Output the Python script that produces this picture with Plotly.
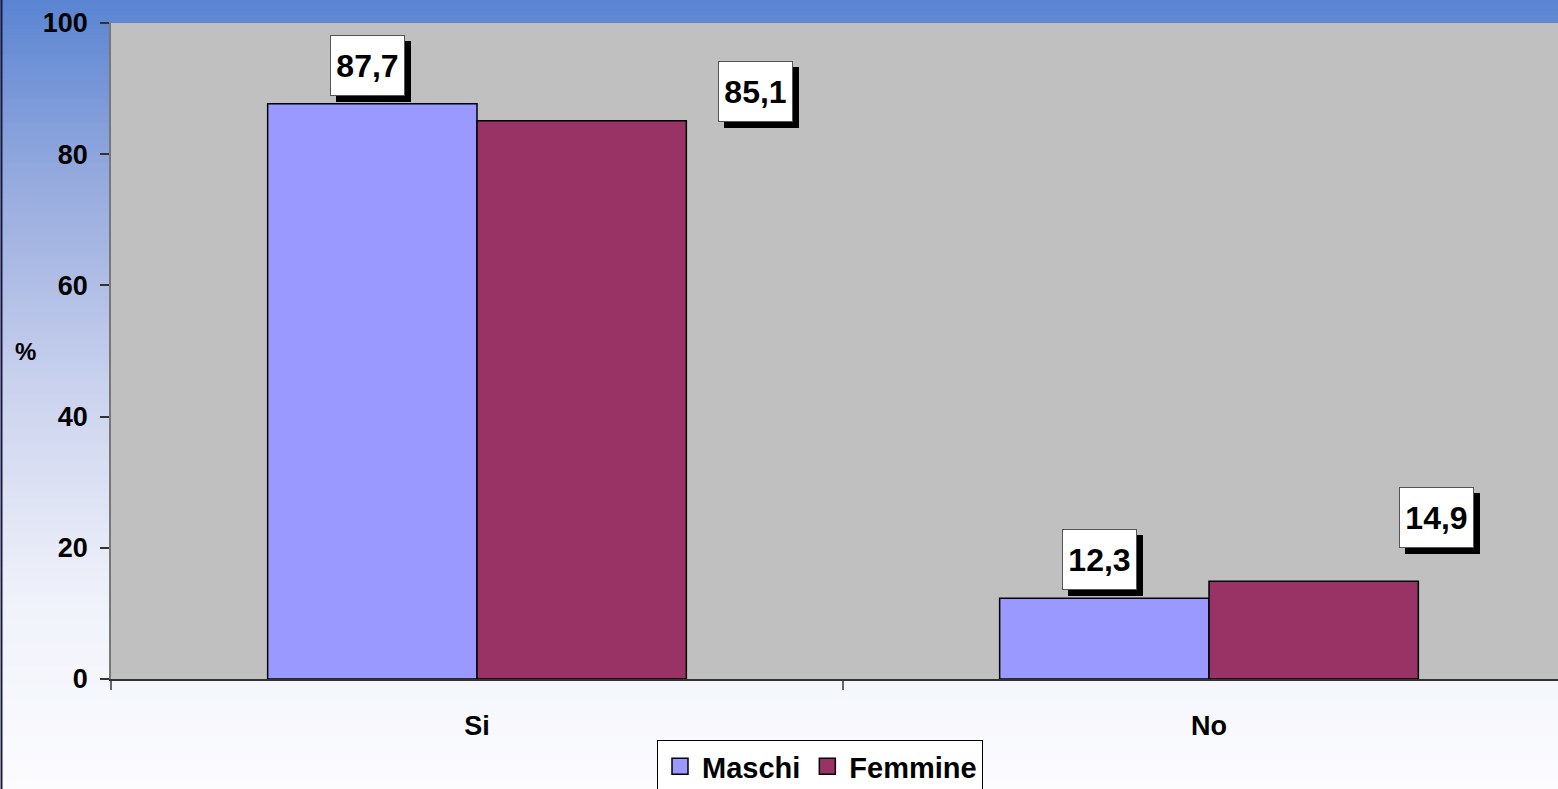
import plotly.graph_objects as go

# Survey answers by sex (percent)
categories = ["Si", "No"]
maschi = [87.7, 12.3]
femmine = [85.1, 14.9]

# label placement (pixel shifts relative to each category centre / bar top)
label_xshift = {"Maschi": [-110, -110], "Femmine": [278, 227]}
label_yshift = {"Maschi": [38, 39], "Femmine": [29, 64]}

W, H = 1558, 789
ML, MR, MT, MB = 111, 0, 23, 110
plot_w = W - ML - MR
plot_h = H - MT - MB

FONT = "Liberation Sans, Arial, sans-serif"
col_m = "#9999FF"
col_f = "#993366"

fig = go.Figure()
for name, vals, col in [("Maschi", maschi, col_m), ("Femmine", femmine, col_f)]:
    fig.add_trace(go.Bar(
        x=categories, y=vals, name=name, marker=dict(color=col, line=dict(color="black", width=1.5)),
        showlegend=False, hoverinfo="x+y+name",
    ))
    # legend entry drawn with a larger square swatch
    fig.add_trace(go.Scatter(
        x=[None], y=[None], mode="markers", name=name,
        marker=dict(symbol="square", size=19, color=col, line=dict(color="black", width=1.5)),
    ))

def fmt(v):
    return f"{v:.1f}".replace(".", ",")

annotations = []
for name, vals in [("Maschi", maschi), ("Femmine", femmine)]:
    for i, (cat, v) in enumerate(zip(categories, vals)):
        xs = label_xshift[name][i]
        ys = label_yshift[name][i]
        common = dict(x=cat, y=v, xref="x", yref="y", showarrow=False, width=73, height=59,
                      borderwidth=1, borderpad=0,
                      font=dict(family=FONT, size=32, color="black", weight="bold"))
        # drop shadow box
        annotations.append(dict(common, text=" ", xshift=xs + 6, yshift=ys - 6,
                                bgcolor="black", bordercolor="black"))
        annotations.append(dict(common, text=fmt(v), xshift=xs, yshift=ys,
                                bgcolor="white", bordercolor="#555555"))

annotations.append(dict(text="%", x=-86 / plot_w, y=0.5, xref="paper", yref="paper",
                        xanchor="center", yanchor="middle", showarrow=False,
                        font=dict(family=FONT, size=24, color="black", weight="bold")))

# vertical blue-to-white gradient behind the whole chart (colour stops by pixel row)
stops = [(0, (90, 132, 210)), (180, (150, 170, 222)), (400, (205, 212, 238)),
         (600, (240, 242, 250)), (789, (252, 252, 255))]

def grad(py):
    for (p0, c0), (p1, c1) in zip(stops[:-1], stops[1:]):
        if p0 <= py <= p1:
            t = (py - p0) / (p1 - p0)
            return tuple(round(c0[j] + (c1[j] - c0[j]) * t) for j in range(3))
    return stops[-1][1]

def py_to_paper(py):
    return (H - MB - py) / plot_h

shapes = []
n = 160
x_left = -ML / plot_w
x_right = (W - ML) / plot_w
for k in range(n):
    p0 = H * k / n
    p1 = H * (k + 1) / n
    c = grad((p0 + p1) / 2)
    shapes.append(dict(type="rect", xref="paper", yref="paper", x0=x_left, x1=x_right,
                       y0=py_to_paper(p1) - 0.002, y1=py_to_paper(p0), fillcolor=f"rgb{c}",
                       line=dict(width=0), layer="below"))
# outer frame edge on the left
shapes.append(dict(type="line", xref="paper", yref="paper", x0=x_left + 1.5 / plot_w, x1=x_left + 1.5 / plot_w,
                   y0=py_to_paper(H), y1=py_to_paper(0), line=dict(color="#1a1a40", width=2), layer="above"))
# grey plot area
shapes.append(dict(type="rect", xref="paper", yref="paper", x0=0, x1=1, y0=0, y1=1,
                   fillcolor="#C0C0C0", line=dict(width=0), layer="below"))

fig.update_layout(
    width=W, height=H,
    margin=dict(l=ML, r=MR, t=MT, b=MB, pad=0, autoexpand=False),
    paper_bgcolor="white", plot_bgcolor="rgba(0,0,0,0)",
    barmode="group", bargap=0.428, bargroupgap=0,
    font=dict(family=FONT, color="black"),
    shapes=shapes, annotations=annotations,
    legend=dict(orientation="h", x=(820 - ML) / plot_w, y=py_to_paper(740),
                xanchor="center", yanchor="top", bgcolor="white", bordercolor="black", borderwidth=1,
                font=dict(family=FONT, size=29, color="black", weight="bold"),
                itemwidth=34, tracegroupgap=0),
    xaxis=dict(type="category", categoryorder="array", categoryarray=categories,
               range=[-0.5, -0.5 + plot_w / 732], tickson="boundaries", ticks="outside", ticklen=9,
               tickcolor="#666666", tickwidth=1.5, showline=True, linecolor="#333333", linewidth=1.5,
               showgrid=False, ticklabelstandoff=22,
               tickfont=dict(family=FONT, size=27, color="black", weight="bold")),
    yaxis=dict(range=[0, 100], dtick=20, ticks="outside", ticklen=9, tickcolor="#333333", tickwidth=1.5,
               showline=True, linecolor="#777777", linewidth=1.5, showgrid=False, zeroline=False,
               ticklabelstandoff=7,
               tickfont=dict(family=FONT, size=27, color="black", weight="bold")),
)

fig.write_html("out.html")
